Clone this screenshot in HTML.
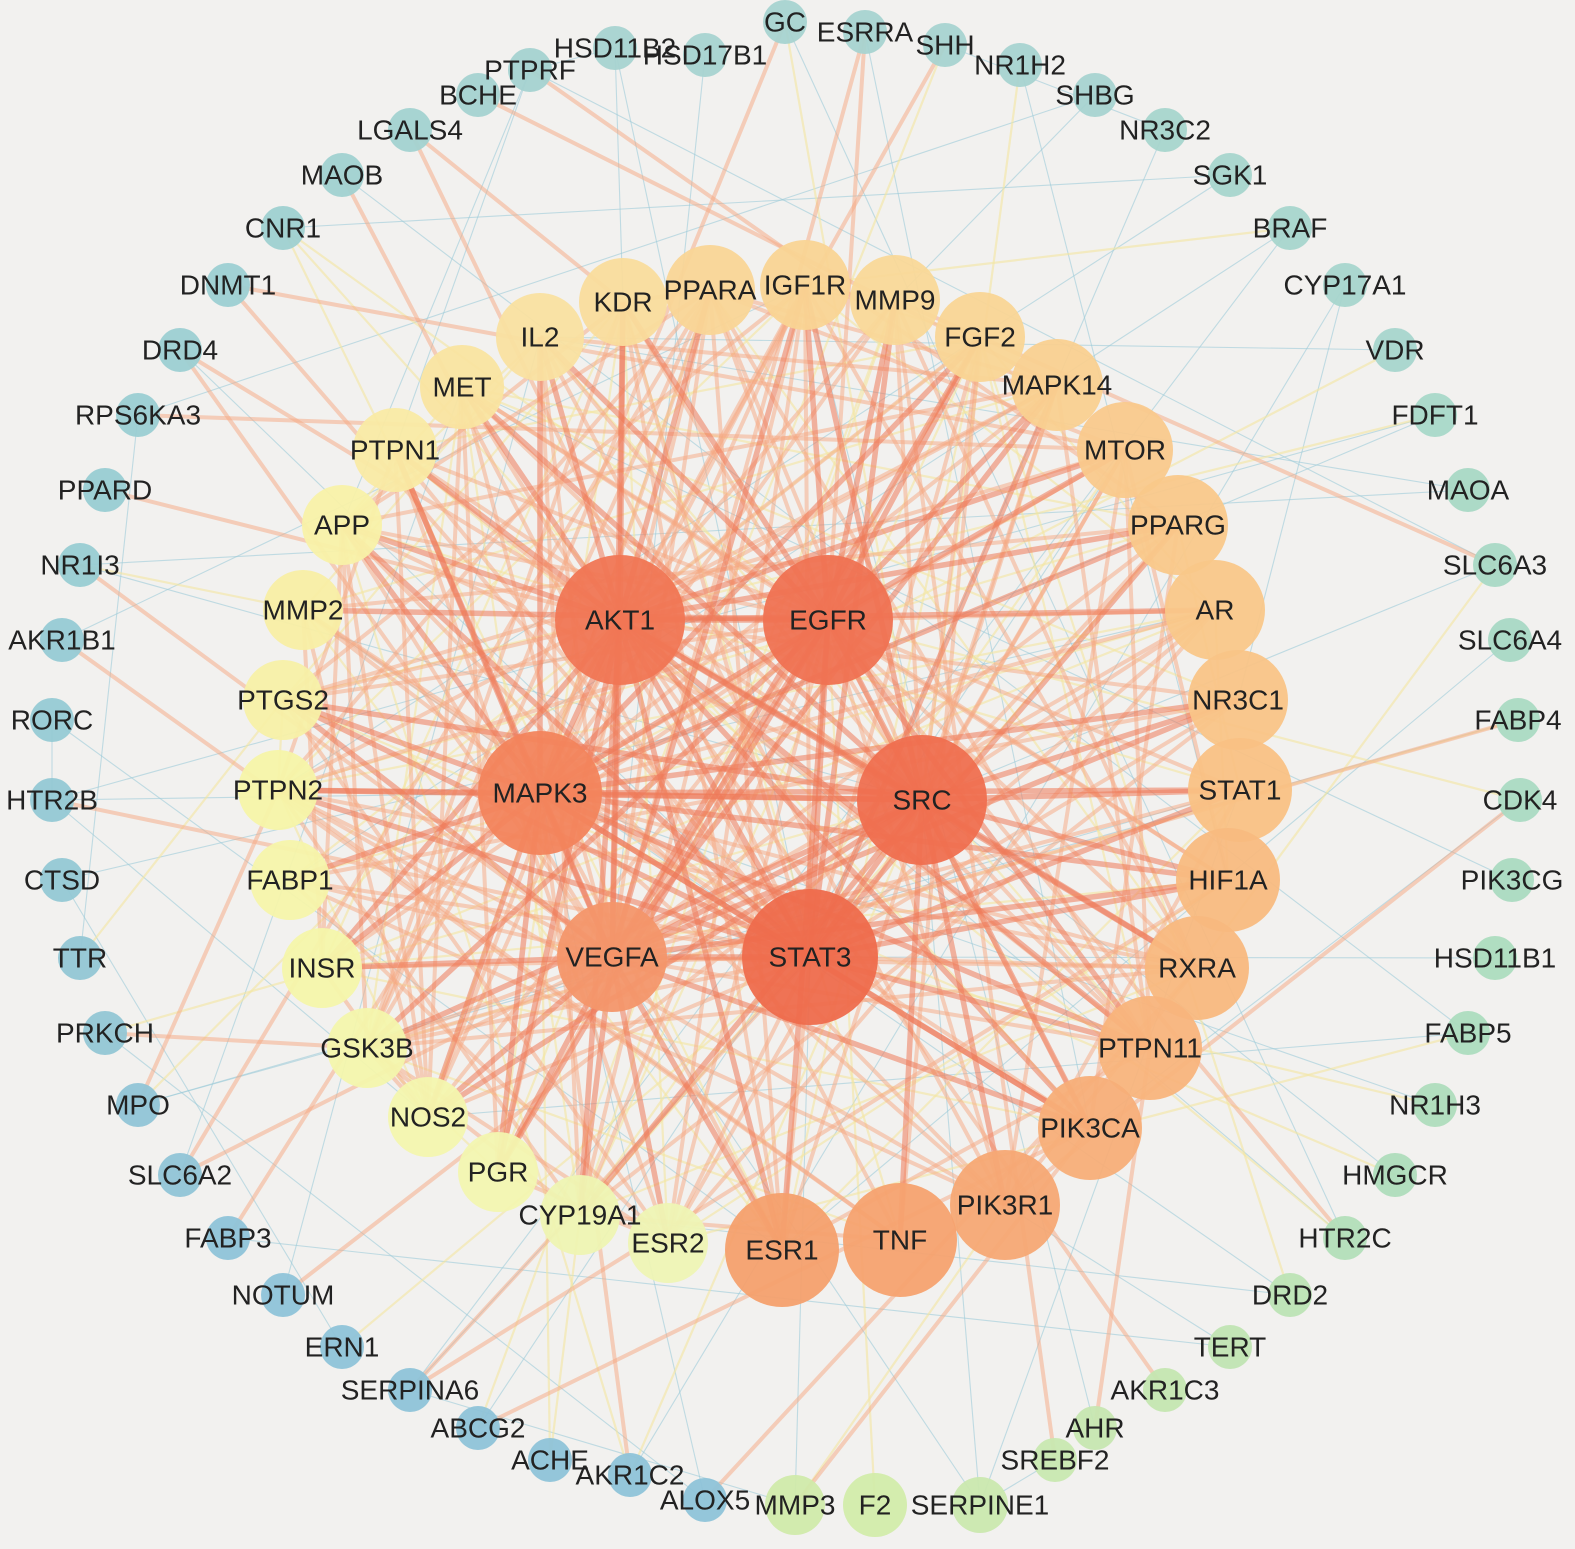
<!DOCTYPE html>
<html><head><meta charset="utf-8"><style>
html,body{margin:0;padding:0;background:#f2f1ef;}
svg{display:block}
text{font-family:"Liberation Sans",Arial,sans-serif;font-size:28px;fill:#222;text-anchor:middle;dominant-baseline:central}
</style></head><body>
<svg id="s" width="1575" height="1549" viewBox="0 0 1575 1549">
<rect width="1575" height="1549" fill="#f2f1ef"/>
<g id="edges"></g>
<g id="nodes"></g>
<g id="labels"></g>
</svg>
<script>
var N=[
["HSD17B1",705,55,22,"#a6d3d0",0],["GC",785,22,22,"#a6d3d0",0],["ESRRA",865,32,22,"#a6d3d0",0],["SHH",945,45,22,"#a6d3d0",0],
["NR1H2",1020,65,22,"#a6d3d0",0],["SHBG",1095,95,22,"#a6d3d0",0],["NR3C2",1165,130,22,"#a6d5cc",0],["SGK1",1230,175,22,"#a6d5cc",0],
["BRAF",1290,228,22,"#a6d5cc",0],["CYP17A1",1345,285,22,"#a6d5cc",0],["VDR",1395,350,22,"#a6d5cc",0],["FDFT1",1435,415,22,"#a8d8c8",0],
["MAOA",1468,490,22,"#a8d8c4",0],["SLC6A3",1495,565,22,"#a8d8c4",0],["SLC6A4",1510,640,22,"#a8d8c4",0],["FABP4",1518,720,22,"#aadac2",0],
["CDK4",1520,800,22,"#aadac2",0],["PIK3CG",1512,880,22,"#aadac0",0],["HSD11B1",1495,958,22,"#acdcbe",0],["FABP5",1468,1033,22,"#acdcbe",0],
["NR1H3",1435,1105,22,"#aedcbc",0],["HMGCR",1395,1175,22,"#aedcba",0],["HTR2C",1345,1238,22,"#b2deb8",0],["DRD2",1290,1295,22,"#bce3b4",0],
["TERT",1230,1347,22,"#c0e4b2",0],["AKR1C3",1165,1390,22,"#c4e6b0",0],["AHR",1095,1428,22,"#c6e6b0",0],["SREBF2",1055,1460,22,"#c8e8b0",0],
["SERPINE1",980,1505,28,"#cae8ae",0],["F2",875,1505,32,"#d2ecaa",0],["MMP3",795,1505,30,"#d0eaaa",0],["ALOX5",705,1500,22,"#8ec3d8",0],
["AKR1C2",630,1475,22,"#8ec3d8",0],["ACHE",550,1460,22,"#8ec3d8",0],["ABCG2",478,1428,22,"#8ec3d8",0],["SERPINA6",410,1390,22,"#8ec3d8",0],
["ERN1",342,1347,22,"#8ec3d8",0],["NOTUM",283,1295,22,"#8ec3d8",0],["FABP3",228,1238,22,"#8ec3d8",0],["SLC6A2",180,1175,22,"#90c4d6",0],
["MPO",138,1105,22,"#90c4d6",0],["PRKCH",105,1033,22,"#92c6d4",0],["TTR",80,958,22,"#92c6d4",0],["CTSD",62,880,22,"#94c8d4",0],
["HTR2B",52,800,22,"#94c8d4",0],["RORC",52,720,22,"#96cad4",0],["AKR1B1",62,640,22,"#96cad4",0],["NR1I3",80,565,22,"#98ccd2",0],
["PPARD",105,490,22,"#98ccd2",0],["RPS6KA3",138,415,22,"#9acdd2",0],["DRD4",180,350,22,"#9ccfd2",0],["DNMT1",228,285,22,"#9ccfd2",0],
["CNR1",283,228,22,"#9ed0d0",0],["MAOB",342,175,22,"#a0d1d0",0],["LGALS4",410,130,22,"#a2d2d0",0],["BCHE",478,95,22,"#a4d2d0",0],
["PTPRF",530,70,22,"#a4d2d0",0],["HSD11B2",615,48,22,"#a6d3d0",0],
["PPARA",710,290,45,"#f9d596",1],["IGF1R",805,285,45,"#f9d494",1],["MMP9",895,300,45,"#f9d898",1],["FGF2",980,337,45,"#f9d595",1],
["MAPK14",1057,385,46,"#f9d090",1],["MTOR",1125,450,48,"#f9c98c",1],["PPARG",1178,525,50,"#f9c88a",1],["AR",1215,610,50,"#f9c789",1],
["NR3C1",1238,700,50,"#f9c487",1],["STAT1",1240,790,52,"#f9c184",1],["HIF1A",1228,880,52,"#f8bb80",1],["RXRA",1197,968,52,"#f8b87e",1],
["PTPN11",1150,1048,52,"#f8b47c",1],["PIK3CA",1090,1128,52,"#f7ae78",1],["PIK3R1",1005,1205,55,"#f6a874",1],["TNF",900,1240,57,"#f5a26f",1],
["ESR1",782,1250,57,"#f4a06d",1],["ESR2",668,1243,40,"#eef4b4",1],["CYP19A1",580,1215,40,"#eef4b2",1],["PGR",498,1172,40,"#f2f5b0",1],
["NOS2",428,1117,40,"#f3f5ae",1],["GSK3B",367,1048,40,"#f3f5ac",1],["INSR",322,968,40,"#f4f5aa",1],["FABP1",290,880,40,"#f5f4aa",1],
["PTPN2",278,790,40,"#f5f4a8",1],["PTGS2",283,700,40,"#f7f0a6",1],["MMP2",303,610,40,"#f8eea4",1],["APP",342,525,40,"#f8f1a8",1],
["PTPN1",395,450,42,"#f9eaa4",1],["MET",462,387,42,"#f9e4a0",1],["IL2",540,337,44,"#f9e0a0",1],["KDR",623,302,44,"#f9dc9c",1],
["AKT1",620,620,65,"#f07654",2],["EGFR",828,620,65,"#ef7252",2],["MAPK3",540,793,62,"#f2845c",2],["SRC",922,800,65,"#ef6f4f",2],
["VEGFA",612,957,55,"#f3966a",2],["STAT3",810,957,68,"#ee6b4c",2]
];
var ns="http://www.w3.org/2000/svg";
function el(t,a,p){var e=document.createElementNS(ns,t);for(var k in a)e.setAttribute(k,a[k]);p.appendChild(e);return e;}
var E=document.getElementById("edges"),G=document.getElementById("nodes"),L=document.getElementById("labels");
var s=12345;function r(){s=(s*1103515245+12345)%2147483648;return s/2147483648;}
var hubs=N.filter(function(n){return n[5]==2}),mid=N.filter(function(n){return n[5]==1}),out=N.filter(function(n){return n[5]==0});
var pairs=[];
function add(a,b,type){pairs.push([a,b,type]);}
for(var i=0;i<hubs.length;i++)for(var j=i+1;j<hubs.length;j++)add(hubs[i],hubs[j],3);
hubs.forEach(function(h){mid.forEach(function(m){if(r()<0.8)add(h,m,r()<0.5?3:2);});});
for(var i=0;i<mid.length;i++)for(var j=i+1;j<mid.length;j++){var p=r();if(p<0.12)add(mid[i],mid[j],2);else if(p<0.22)add(mid[i],mid[j],1);}
out.forEach(function(o){var k=1+Math.floor(r()*3);for(var q=0;q<k;q++){var t=r()<0.35?hubs[Math.floor(r()*hubs.length)]:mid[Math.floor(r()*mid.length)];var p=r();add(o,t,p<0.3?2:(p<0.6?1:0));}
 if(r()<0.4){var o2=out[Math.floor(r()*out.length)];if(o2!==o)add(o,o2,0);}});
var st={3:["#ef7a5a",5.5,0.55],2:["#f5a882",4,0.5],1:["#f3e6a0",2.2,0.6],0:["#9ccbd8",1.1,0.6]};
pairs.sort(function(a,b){return a[2]-b[2]});
pairs.forEach(function(p){var c=st[p[2]];el("line",{x1:p[0][1],y1:p[0][2],x2:p[1][1],y2:p[1][2],stroke:c[0],"stroke-width":c[1],"stroke-opacity":c[2]},E);});
N.forEach(function(n){el("circle",{cx:n[1],cy:n[2],r:n[3],fill:n[4],"fill-opacity":0.95},G);
 var t=el("text",{x:n[1],y:n[2]},L);t.textContent=n[0];});
</script>
</body></html>
